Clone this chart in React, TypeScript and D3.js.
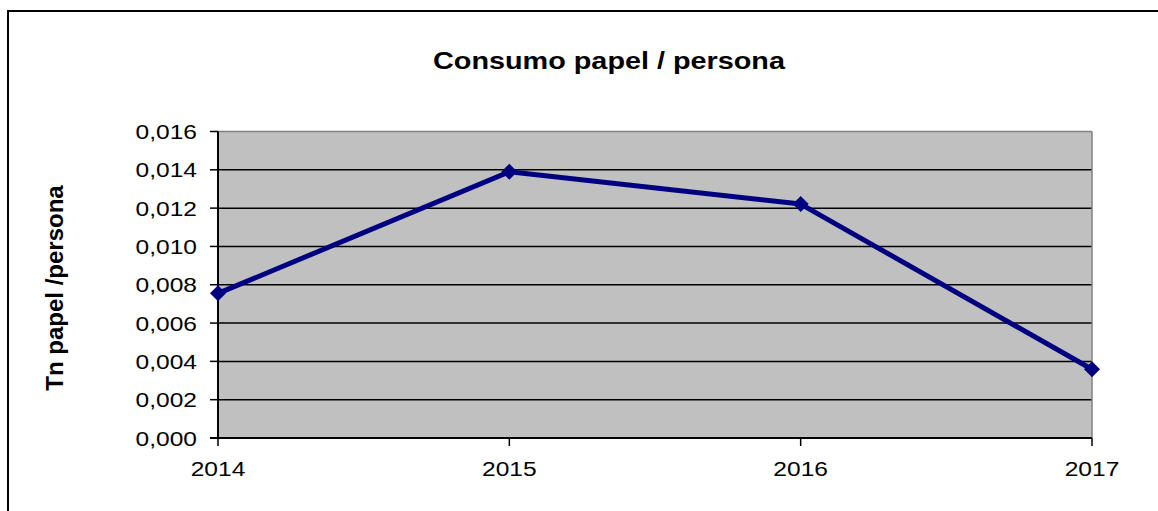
import React from "react";
import * as d3 from "d3";

const years: string[] = ["2014", "2015", "2016", "2017"];
const values: number[] = [0.00755, 0.0139, 0.01221, 0.00359];
const yTicks: number[] = [0, 0.002, 0.004, 0.006, 0.008, 0.01, 0.012, 0.014, 0.016];
const title = "Consumo papel / persona";
const yTitle = "Tn papel /persona";

export default function App() {
  const W = 1158, H = 511;
  const left = 218, right = 1092, top = 131.5, bottom = 438;
  const x = d3.scalePoint<string>().domain(years).range([left, right]).padding(0);
  const y = d3.scaleLinear().domain([0, 0.016]).range([bottom, top]);
  const fmt = (v: number) => d3.format(".3f")(v).replace(".", ",");
  const line = d3.line<number>().x((_, i) => x(years[i])!).y((d) => y(d));
  const font = "'Liberation Sans', Arial, sans-serif";
  const dm = 8;
  const sx = 1.17;
  return (
    <svg width={W} height={H} style={{ position: "absolute", left: 0, top: 0, background: "#fff" }} fontFamily={font}>
      <rect x={8} y={11} width={1170} height={520} fill="#fff" stroke="#000" strokeWidth={2} />
      <text transform={`translate(609,69) scale(1.2,1)`} textAnchor="middle" fontWeight="bold" fontSize={24}>{title}</text>
      <rect x={left} y={top} width={right - left} height={bottom - top} fill="#C0C0C0" />
      {yTicks.slice(1, -1).map((t) => (
        <line key={t} x1={left} x2={right} y1={y(t)} y2={y(t)} stroke="#000" strokeWidth={1.5} />
      ))}
      <line x1={left} x2={right} y1={y(0.016)} y2={y(0.016)} stroke="#808080" strokeWidth={1.5} />
      <line x1={right} x2={right} y1={top} y2={bottom} stroke="#808080" strokeWidth={1.5} />
      <line x1={left} x2={left} y1={top} y2={bottom} stroke="#000" strokeWidth={2} />
      <line x1={left - 8} x2={right} y1={bottom} y2={bottom} stroke="#000" strokeWidth={2} />
      {yTicks.map((t) => (
        <g key={"yt" + t}>
          <line x1={left - 8} x2={left} y1={y(t)} y2={y(t)} stroke="#000" strokeWidth={1.5} />
          <text transform={`translate(197,${y(t) + 7.5}) scale(${sx},1)`} textAnchor="end" fontSize={21}>{fmt(t)}</text>
        </g>
      ))}
      {years.map((yr) => (
        <g key={yr}>
          <line x1={x(yr)} x2={x(yr)} y1={bottom} y2={bottom + 8} stroke="#000" strokeWidth={1.5} />
          <text transform={`translate(${x(yr)},476) scale(${sx},1)`} textAnchor="middle" fontSize={21}>{yr}</text>
        </g>
      ))}
      <text transform="translate(63,288) rotate(-90)" textAnchor="middle" fontWeight="bold" fontSize={24}>{yTitle}</text>
      <path d={line(values)!} fill="none" stroke="#000080" strokeWidth={5} strokeLinejoin="round" />
      {values.map((v, i) => {
        const cx = x(years[i])!, cy = y(v);
        return (
          <path key={i} d={`M${cx},${cy - dm}L${cx + dm},${cy}L${cx},${cy + dm}L${cx - dm},${cy}Z`} fill="#000080" />
        );
      })}
    </svg>
  );
}
